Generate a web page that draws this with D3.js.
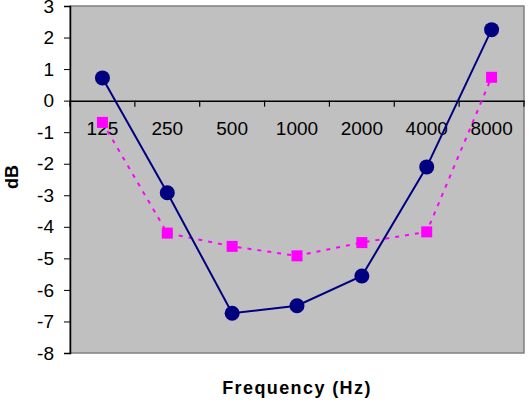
<!DOCTYPE html>
<html><head><meta charset="utf-8">
<script src="https://cdn.jsdelivr.net/npm/d3@7"></script>
<style>body{margin:0;background:#fff}svg{display:block}</style>
</head><body>
<svg id="c" width="532" height="402"></svg>
<script>
const categories = ["125","250","500","1000","2000","4000","8000"];
const seriesA = [0.72, -2.92, -6.74, -6.5, -5.56, -2.1, 2.25];
const seriesB = [-0.69, -4.2, -4.62, -4.92, -4.5, -4.16, 0.74];
const yTicks = [3,2,1,0,-1,-2,-3,-4,-5,-6,-7,-8];
const xTitle = "Frequency (Hz)";
const yTitle = "dB";

const svg = d3.select("#c");
const L = 70, R = 524, T = 6, B = 353;
const x = d3.scaleBand().domain(categories).range([L, R]);
const y = d3.scaleLinear().domain([-8, 3]).range([B, T]);
const font = "Arial, 'Liberation Sans', sans-serif";

svg.append("rect").attr("x", L).attr("y", T).attr("width", R - L).attr("height", B - T)
  .attr("fill", "#c0c0c0").attr("stroke", "#808080").attr("stroke-width", 1.5);

// y axis
const ya = svg.append("g").attr("transform", `translate(${L},0)`)
  .call(d3.axisLeft(y).tickValues(yTicks).tickSize(6).tickPadding(10).tickFormat(d => String(d)));
ya.select(".domain").attr("stroke", "#000").attr("stroke-width", 1.5);
ya.selectAll("text").attr("font-family", font).attr("font-size", 19).attr("fill", "#000");

// x axis at y=0
const xa = svg.append("g").attr("transform", `translate(0,${y(0)})`)
  .call(d3.axisBottom(x).tickSize(0).tickPadding(21));
xa.select(".domain").attr("stroke", "#000").attr("stroke-width", 1.5);
xa.selectAll("text").attr("font-family", font).attr("font-size", 19).attr("fill", "#000");
const bounds = categories.map(c => x(c)).concat([R]);
xa.selectAll(".btick").data(bounds).enter().append("line")
  .attr("x1", d => d).attr("x2", d => d).attr("y1", 0).attr("y2", 6)
  .attr("stroke", "#000").attr("stroke-width", 1.2);

const cx = c => x(c) + x.bandwidth() / 2;
const line = d3.line().x((d, i) => cx(categories[i])).y(d => y(d));

svg.append("path").datum(seriesB).attr("d", line).attr("fill", "none")
  .attr("stroke", "#ff00ff").attr("stroke-width", 2).attr("stroke-dasharray", "4,6");
svg.append("path").datum(seriesA).attr("d", line).attr("fill", "none")
  .attr("stroke", "#000080").attr("stroke-width", 2);

svg.selectAll(".sq").data(seriesB).enter().append("rect")
  .attr("x", (d, i) => cx(categories[i]) - 5.5).attr("y", d => y(d) - 5.5)
  .attr("width", 11).attr("height", 11).attr("fill", "#ff00ff");
svg.selectAll(".ci").data(seriesA).enter().append("circle")
  .attr("cx", (d, i) => cx(categories[i])).attr("cy", d => y(d)).attr("r", 7.5)
  .attr("fill", "#000080");

svg.append("text").attr("x", 297).attr("y", 394).attr("text-anchor", "middle")
  .attr("font-family", font).attr("font-weight", "bold").attr("font-size", 18)
  .attr("letter-spacing", 1.4).text(xTitle);
svg.append("text").attr("transform", `translate(18,177) rotate(-90)`)
  .attr("text-anchor", "middle").attr("font-family", font).attr("font-weight", "bold")
  .attr("font-size", 18).text(yTitle);
</script>
</body></html>
